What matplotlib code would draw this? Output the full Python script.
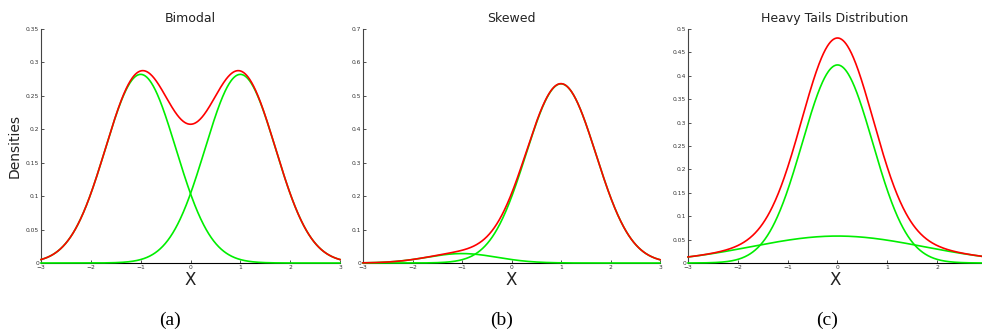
import numpy as np
import matplotlib
matplotlib.use("Agg")
import matplotlib.pyplot as plt

# Mixture components: weights, means, standard deviations
titles = ["Bimodal", "Skewed", "Heavy Tails Distribution"]
captions = ["(a)", "(b)", "(c)"]

bimodal_weights = [0.5, 0.5]
bimodal_means = [-1.0, 1.0]
bimodal_sds = [0.707, 0.707]

skewed_weights = [0.05, 0.95]
skewed_means = [-1.0, 1.0]
skewed_sds = [0.707, 0.707]

heavy_weights = [0.75, 0.25]
heavy_means = [0.0, 0.0]
heavy_sds = [0.707, 1.732]

# y-axis ticks of each panel
yticks_a = [0, 0.05, 0.1, 0.15, 0.2, 0.25, 0.3, 0.35]
yticks_b = [0, 0.1, 0.2, 0.3, 0.4, 0.5, 0.6, 0.7]
yticks_c = [0, 0.05, 0.1, 0.15, 0.2, 0.25, 0.3, 0.35, 0.4, 0.45, 0.5]
xticks = [-3, -2, -1, 0, 1, 2, 3]

panels = [
    (bimodal_weights, bimodal_means, bimodal_sds, yticks_a, (-3, 3)),
    (skewed_weights, skewed_means, skewed_sds, yticks_b, (-3, 3)),
    (heavy_weights, heavy_means, heavy_sds, yticks_c, (-3, 2.9)),
]


def gauss(x, w, m, s):
    return w * np.exp(-0.5 * ((x - m) / s) ** 2) / (s * np.sqrt(2 * np.pi))


def fmt(v):
    return ("%g" % v).replace("-", "\u2212")


fig = plt.figure(figsize=(9.82, 3.36), dpi=100)

# axes boxes in figure fraction [left, bottom, width, height]
boxes = [
    [41 / 982, 73 / 336, 299 / 982, 234 / 336],
    [363 / 982, 73 / 336, 297 / 982, 234 / 336],
    [688 / 982, 73 / 336, 294 / 982, 234 / 336],
]
caption_x = [170 / 982, 502 / 982, 827 / 982]

for i, (w, m, s, yt, xl) in enumerate(panels):
    ax = fig.add_axes(boxes[i])
    x = np.linspace(xl[0], xl[1], 600)
    comps = [gauss(x, wi, mi, si) for wi, mi, si in zip(w, m, s)]
    total = np.sum(comps, axis=0)
    for c in comps:
        ax.plot(x, c, color="#00ee00", lw=1.2, clip_on=False, zorder=3)
    ax.plot(x, total, color="#ff0000", lw=1.2, clip_on=False, zorder=4)

    ax.set_xlim(*xl)
    ax.set_ylim(yt[0], yt[-1])
    ax.set_xticks([t for t in xticks if xl[0] <= t <= xl[1] + 1e-9])
    ax.set_xticklabels([fmt(t) for t in ax.get_xticks()])
    ax.set_yticks(yt)
    ax.set_yticklabels([fmt(t) for t in yt])
    ax.tick_params(direction="in", length=2.5, width=0.6, labelsize=4.3,
                   colors="#333333", pad=1.5)
    ax.spines["top"].set_visible(False)
    ax.spines["right"].set_visible(False)
    ax.spines["left"].set_color("#444444")
    ax.spines["bottom"].set_color("black")
    ax.spines["left"].set_linewidth(0.8)
    ax.spines["bottom"].set_linewidth(0.8)

    ax.set_title(titles[i], fontsize=9, pad=5, color="#222222")
    ax.set_xlabel("X", fontsize=12, labelpad=1, color="#222222")
    if i == 0:
        ax.set_ylabel("Densities", fontsize=10, labelpad=3, color="#222222")

    fig.text(caption_x[i], 16 / 336, captions[i], ha="center",
             va="center", fontsize=14, family="Liberation Serif")

fig.savefig("out.png", dpi=100)
